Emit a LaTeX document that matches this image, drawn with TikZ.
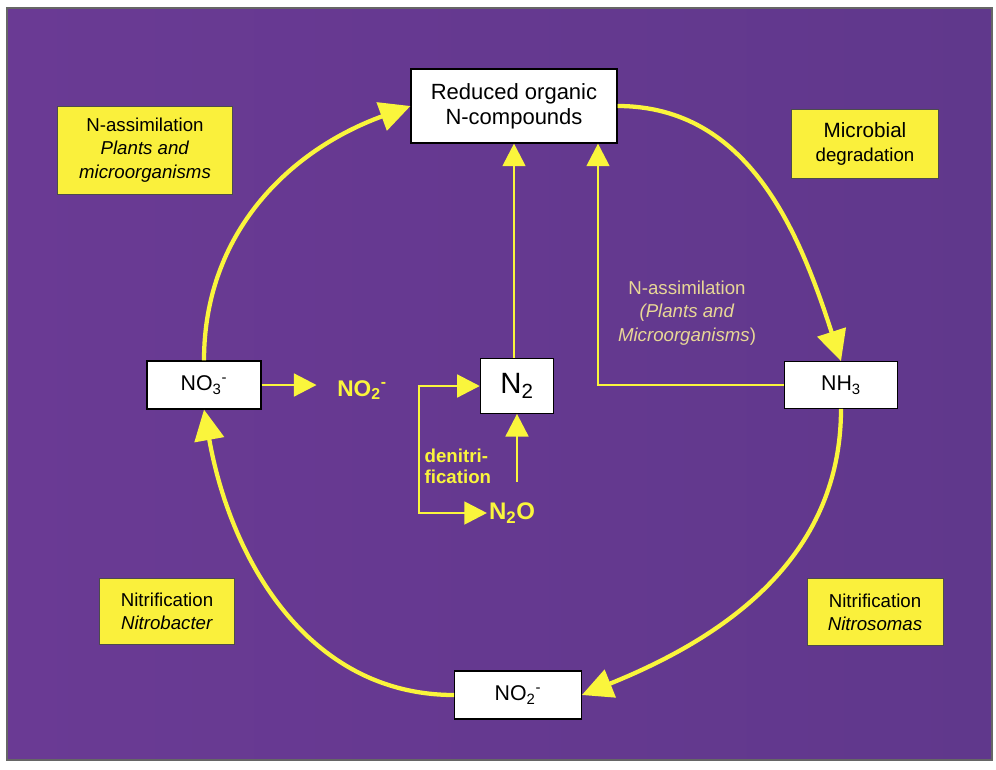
\documentclass[tikz,border=0pt]{standalone}
\usepackage{fontspec}
\setmainfont{Liberation Sans}
\usetikzlibrary{arrows.meta, positioning}
\definecolor{bgpurple}{RGB}{96,56,140}
\definecolor{bgpurpleL}{RGB}{106,58,148}
\definecolor{cycyellow}{RGB}{250,245,60}
\definecolor{boxyellow}{RGB}{250,240,60}
\definecolor{labeltan}{RGB}{232,215,150}

\begin{document}
\begin{tikzpicture}[x=0.75pt, y=0.75pt,
    whitebox/.style={draw=black, line width=0.8pt, fill=white, inner sep=2pt, align=center},
    yelbox/.style={draw=black!70, line width=0.6pt, fill=boxyellow, inner sep=2pt, align=center,
        font=\fontsize{14}{17.5}\selectfont},
    cyc/.style={draw=cycyellow, line width=3.2pt, -{Triangle[length=23pt,width=22pt]}},
    flow/.style={draw=cycyellow, line width=2.2pt, -{Triangle[length=17pt,width=17pt]}},
    ytext/.style={text=cycyellow, font=\bfseries\fontsize{17}{20}\selectfont}]
    \useasboundingbox (0,0) rectangle (996,-769);
    \fill[white] (0,0) rectangle (996,-769);
    \shade[left color=bgpurpleL, right color=bgpurple] (7,-8) rectangle (992,-760);
    \draw[black!60, line width=0.8pt] (7,-8) rectangle (992,-760);
    % boxes of the cycle
    \node[whitebox, minimum width=154.5pt, minimum height=55.5pt, font=\fontsize{16.5}{19}\selectfont]
        (orgN) at (514,-106) {Reduced organic\\N-compounds};
    \node[whitebox, minimum width=85.5pt, minimum height=36pt, font=\fontsize{16}{19}\selectfont]
        (no3) at (204,-385) {NO\textsubscript{3}\textsuperscript{-}};
    \node[whitebox, minimum width=55pt, minimum height=41pt, font=\fontsize{22}{26}\selectfont]
        (n2) at (517,-386) {N\textsubscript{2}};
    \node[whitebox, minimum width=85pt, minimum height=35pt, font=\fontsize{16}{19}\selectfont]
        (nh3) at (841,-385) {NH\textsubscript{3}};
    \node[whitebox, minimum width=95pt, minimum height=36pt, font=\fontsize{16}{19}\selectfont]
        (no2b) at (518,-695) {NO\textsubscript{2}\textsuperscript{-}};
    % yellow process boxes
    \node[yelbox, minimum width=131pt, minimum height=66pt] (assim) at (145,-150)
        {N-assimilation\\\textit{Plants and}\\\textit{microorganisms}};
    \node[yelbox, minimum width=110pt, minimum height=52pt] (degr) at (865,-144)
        {{\fontsize{15.5}{18}\selectfont Microbial}\\degradation};
    \node[yelbox, minimum width=101pt, minimum height=49.5pt] (nbact) at (167,-611)
        {Nitrification\\\textit{Nitrobacter}};
    \node[yelbox, minimum width=102pt, minimum height=50pt] (nsom) at (875,-612)
        {Nitrification\\\textit{Nitrosomas}};
    % free texts
    \node[ytext] (no2) at (362,-390) {NO\textsubscript{2}\textsuperscript{-}};
    \node[ytext, font=\bfseries\fontsize{18}{21}\selectfont] (n2o) at (512,-513) {N\textsubscript{2}O};
    \node[text=cycyellow, font=\bfseries\fontsize{14}{15.5}\selectfont, align=left, anchor=west]
        (denit) at (420,-466) {denitri-\\fication};
    \node[text=labeltan, font=\fontsize{14}{17.5}\selectfont, align=center]
        (assim2) at (687,-313) {N-assimilation\\\textit{(Plants and}\\\textit{Microorganisms})};
    \coordinate (bend) at (598,-385);
    \coordinate (brtop) at (419,-386);
    \coordinate (brbot) at (brtop |- n2o.west);
    % cycle
    \draw[cyc] (no3.north) to[out=90, in=200] (orgN.west);
    \draw[cyc] (orgN.east) to[out=0, in=108] (nh3.north);
    \draw[cyc] (nh3.south) to[out=-90, in=22] (no2b.east);
    \draw[cyc] (no2b.west) to[out=180, in=-80] (no3.south);
    % inner arrows
    \draw[flow, shorten >=12pt] (no3.east) -- (no3.east -| no2.west);
    \draw[flow] (orgN.south |- n2.north) -- (orgN.south);
    \draw[flow] (nh3.west) -- (bend) -- (bend |- orgN.south);
    \draw[flow, shorten <=12pt] (n2.south |- n2o.north) -- (n2.south);
    \draw[flow, {Triangle[length=17pt,width=17pt]}-{Triangle[length=17pt,width=17pt]}]
        (n2.west) -- (brtop) -- (brbot) -- ([xshift=2pt]n2o.west);
\end{tikzpicture}
\end{document}
